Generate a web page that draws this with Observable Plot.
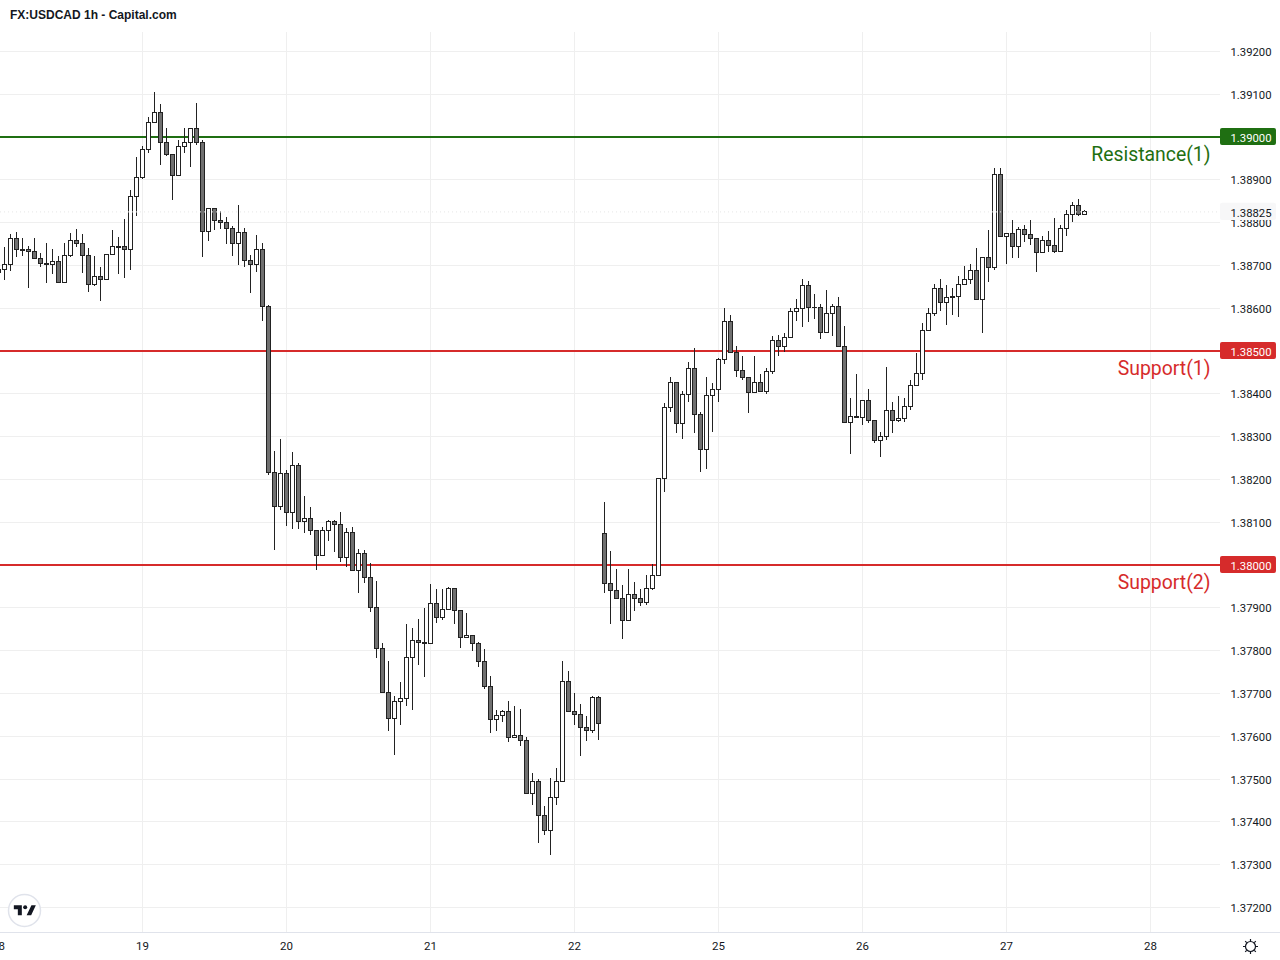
<!DOCTYPE html>
<html><head><meta charset="utf-8">
<script src="https://cdn.jsdelivr.net/npm/d3@7"></script>
<script src="https://cdn.jsdelivr.net/npm/@observablehq/plot@0.6"></script>
<style>
html,body{margin:0;padding:0;background:#fff}
#title{height:32px;box-sizing:border-box;padding:8px 0 0 10px;font:bold 12px/15px "Liberation Sans",sans-serif;color:#131722}
svg{display:block}
</style></head><body>
<div id="title">FX:USDCAD 1h - Capital.com</div>
<div id="chart"></div>
<script>
// Prices in points (price x 100000), one hourly bar per entry
const opens = [138690,
138691,138703,138762,138738,138738,138733,138715,138705,138701,138710,
138659,138724,138759,138752,138722,138656,138673,138668,138726,138745,
138743,138738,138862,138906,138970,139035,139058,138988,138958,138911,
138977,138988,139021,138986,138780,138832,138806,138801,138787,138752,
138778,138712,138703,138736,138605,138217,138137,138214,138123,138233,
138102,138109,138081,138023,138081,138102,138095,138018,138077,137988,
138027,137971,137901,137805,137703,137642,137682,137689,137784,137824,
137819,137817,137911,137878,137897,137946,137894,137831,137836,137817,
137775,137717,137639,137649,137658,137597,137602,137590,137466,137494,
137415,137380,137457,137494,137728,137658,137651,137621,137614,137691,
138074,137957,137940,137922,137870,137932,137922,137913,137946,137976,
138201,138367,138427,138331,138399,138458,138352,138271,138397,138411,
138481,138568,138497,138455,138437,138404,138427,138406,138453,138525,
138511,138532,138593,138600,138652,138602,138602,138544,138588,138605,
138511,138334,138348,138345,138385,138338,138292,138301,138362,138338,
138343,138371,138420,138448,138549,138588,138647,138614,138628,138628,
138656,138668,138689,138621,138719,138696,138913,138768,138775,138745,
138785,138773,138764,138731,138759,138747,138733,138787,138820,138839,
138818];
const highs = [138700,
138741,138772,138776,138764,138743,138762,138727,138751,138736,138721,
138751,138774,138785,138772,138739,138720,138694,138726,138781,138766,
138808,138876,138951,138977,139045,139103,139076,139021,138960,138991,
139021,139021,139078,138992,138832,138832,138825,138811,138792,138841,
138787,138722,138769,138752,138607,138266,138294,138221,138264,138238,
138161,138135,138081,138088,138105,138105,138123,138086,138088,138037,
138035,138004,137962,137817,137775,137693,137726,137862,137852,137873,
137899,137955,137943,137943,137948,137946,137894,137887,137836,137819,
137803,137740,137661,137661,137682,137670,137663,137597,137513,137499,
137436,137502,137525,137775,137752,137700,137675,137646,137693,137693,
138145,138032,137990,137953,137990,137960,137943,137976,138002,138201,
138378,138439,138427,138406,138472,138507,138357,138439,138425,138483,
138600,138582,138511,138488,138437,138486,138446,138460,138535,138537,
138542,138600,138621,138668,138663,138633,138609,138642,138609,138624,
138558,138388,138444,138385,138411,138338,138310,138462,138380,138394,
138388,138432,138495,138565,138600,138656,138666,138654,138647,138673,
138698,138703,138740,138719,138782,138927,138927,138775,138806,138789,
138794,138804,138764,138768,138780,138810,138794,138829,138846,138853,
138829];
const lows = [138680,
138665,138686,138719,138721,138646,138713,138695,138658,138678,138659,
138659,138719,138742,138681,138637,138651,138616,138665,138723,138678,
138670,138688,138815,138901,138962,139035,138933,138955,138852,138911,
138962,138929,138980,138719,138756,138782,138784,138750,138721,138700,
138695,138635,138684,138568,138209,138033,138127,138091,138084,138082,
138073,138068,137987,138023,138055,138029,138006,137994,137988,137933,
137957,137889,137781,137700,137611,137555,137625,137669,137660,137765,
137737,137817,137864,137870,137897,137861,137805,137831,137798,137760,
137709,137606,137611,137632,137585,137594,137576,137463,137438,137349,
137368,137321,137438,137494,137658,137625,137552,137587,137606,137590,
137934,137861,137922,137826,137870,137891,137903,137905,137940,137976,
138169,138356,138307,138293,138380,138307,138215,138223,138310,138380,
138469,138495,138437,138432,138354,138404,138406,138398,138446,138488,
138497,138532,138570,138555,138567,138574,138527,138544,138534,138511,
138334,138259,138342,138327,138331,138285,138252,138292,138308,138334,
138334,138362,138420,138430,138546,138581,138593,138560,138583,138578,
138652,138656,138621,138541,138661,138688,138768,138703,138717,138715,
138754,138747,138684,138731,138731,138728,138733,138768,138801,138815,
138818];
const closes = [138684,
138703,138762,138736,138735,138733,138715,138705,138701,138709,138659,
138724,138759,138752,138722,138656,138673,138668,138726,138745,138742,
138738,138862,138906,138970,139035,139058,138988,138958,138911,138977,
138988,139021,138986,138780,138832,138806,138801,138787,138752,138778,
138712,138703,138736,138605,138217,138137,138214,138123,138233,138102,
138109,138081,138023,138081,138102,138095,138018,138077,137988,138027,
137971,137901,137805,137703,137642,137682,137688,137784,137824,137819,
137817,137911,137878,137897,137946,137894,137831,137836,137817,137775,
137717,137639,137649,137658,137597,137602,137590,137466,137494,137415,
137380,137457,137494,137728,137658,137651,137621,137614,137691,137630,
137957,137940,137922,137870,137932,137922,137913,137946,137976,138201,
138367,138427,138331,138399,138458,138352,138271,138397,138411,138481,
138568,138497,138455,138437,138404,138427,138406,138453,138525,138511,
138532,138593,138600,138652,138602,138601,138544,138588,138605,138511,
138334,138348,138345,138385,138338,138292,138300,138362,138338,138343,
138371,138420,138448,138549,138588,138647,138614,138626,138626,138656,
138668,138689,138621,138719,138696,138913,138768,138775,138745,138785,
138773,138764,138731,138759,138747,138733,138787,138820,138839,138818,
138825];

const priceTicks = [1.392,1.391,1.39,1.389,1.388,1.387,1.386,1.385,1.384,1.383,1.382,1.381,1.38,1.379,1.378,1.377,1.376,1.375,1.374,1.373,1.372];
const dayLabels = ["18","19","20","21","22","25","26","27","28"];
const dayBars = [-1,23,47,71,95,119,143,167,191];
const levelNames = ["Resistance(1)","Support(1)","Support(2)"];
const levelPrices = [1.39,1.385,1.38];
const levelColors = ["#1f6f12","#d62b2b","#d62b2b"];
const levelLabelPrices = [1.38961,1.38461,1.37961];
const lastPrice = 1.38825;
const axisLinePrice = 1.37142;

const bars = opens.map((o,i)=>({k:i-1,o:o/1e5,h:highs[i]/1e5,l:lows[i]/1e5,c:closes[i]/1e5,up:closes[i]>=o}));
const levels = levelNames.map((n,i)=>({n,p:levelPrices[i],col:levelColors[i],lp:levelLabelPrices[i]}));
const fmt = d3.format(".5f");
const FONT = "Roboto, 'Liberation Sans', sans-serif";
const xStart = -2/3, xEdge = 202.67, xTagEnd = 212, xRight = 213.3, xLabelEnd = 201;

const tick = 'data:image/svg+xml,' + encodeURIComponent('<svg xmlns="http://www.w3.org/2000/svg" viewBox="0 0 36 28"><path fill="#131722" d="M14 6H2v6h6v9h6V6zm14 15h-6.8l7.2-15H35l-7 15z"/><circle cx="19" cy="9" r="3" fill="#131722"/></svg>');
const gear = 'data:image/svg+xml,' + encodeURIComponent('<svg xmlns="http://www.w3.org/2000/svg" viewBox="0 0 18 18"><g fill="none" stroke="#131722" stroke-width="1.2"><circle cx="9" cy="9" r="5"/><path d="M9 1.5v2.5M9 14v2.5M1.5 9h2.5M14 9h2.5M3.7 3.7l1.5 1.5M12.8 12.8l1.5 1.5M3.7 14.3l1.5-1.5M12.8 5.2l1.5-1.5"/></g></svg>');

const chart = Plot.plot({
  width:1280, height:928,
  marginLeft:0, marginRight:60, marginTop:0, marginBottom:28,
  style:{background:"#fff", fontFamily:FONT},
  x:{domain:[xStart,xEdge], range:[0,1220], label:null},
  y:{domain:[1.372,1.392], range:[874.9,18.9], label:null},
  marks:[
    Plot.gridY(priceTicks,{stroke:"#efefef",strokeOpacity:1,shapeRendering:"crispEdges"}),
    Plot.gridX(dayBars,{stroke:"#efefef",strokeOpacity:1,shapeRendering:"crispEdges"}),
    Plot.ruleY([axisLinePrice],{x1:xStart,x2:xRight,stroke:"#e0e3eb",shapeRendering:"crispEdges"}),
    Plot.ruleY(levels,{y:"p",stroke:"col",strokeWidth:2,shapeRendering:"crispEdges"}),
    Plot.ruleX(bars,{x:"k",y1:"l",y2:"h",stroke:"#222",strokeWidth:1,shapeRendering:"crispEdges"}),
    Plot.rect(bars,{x1:d=>d.k-1/3,x2:d=>d.k+1/3,y1:"o",y2:"c",dx:0.5,dy:0.5,fill:d=>d.up?"#fff":"#707070",stroke:"#222",strokeWidth:1,shapeRendering:"crispEdges"}),
    Plot.ruleY([lastPrice],{stroke:"#e6e6e6",strokeDasharray:"1,3",strokeWidth:1}),
    Plot.axisY({anchor:"right",ticks:priceTicks,tickSize:0,tickPadding:10,tickFormat:fmt,fontSize:11.3,fill:"#131722",label:null,dy:1}),
    Plot.axisX({ticks:dayBars,tickSize:0,tickPadding:9,tickFormat:d=>dayLabels[dayBars.indexOf(d)],fontSize:11.5,fill:"#131722",label:null}),
    Plot.rect(levels,{x1:xEdge,x2:xTagEnd,y1:d=>d.p-0.0002,y2:d=>d.p+0.0002,fill:"col",rx:2}),
    Plot.text(levels,{y:"p",frameAnchor:"right",dx:10,dy:1,textAnchor:"start",text:d=>fmt(d.p),fill:"#fff",fontSize:11.3}),
    Plot.rect([lastPrice],{x1:xEdge,x2:xTagEnd,y1:d=>d-0.0002,y2:d=>d+0.0002,fill:"#f7f7f8",rx:2}),
    Plot.text([lastPrice],{y:d=>d,frameAnchor:"right",dx:10,dy:1,textAnchor:"start",text:d=>fmt(d),fill:"#131722",fontSize:11.3}),
    Plot.text(levels,{x:xLabelEnd,y:"lp",dy:1,text:"n",fill:"col",textAnchor:"end",fontSize:19.4}),
    Plot.dot([0],{frameAnchor:"bottom-left",dx:24,dy:-22,r:16,fill:"#fff",stroke:"#e0e3eb"}),
    Plot.image([0],{frameAnchor:"bottom-left",dx:24,dy:-22,width:24,height:19,src:()=>tick}),
    Plot.image([0],{frameAnchor:"bottom-right",dx:30,dy:14,width:18,height:18,src:()=>gear})
  ]
});
document.getElementById("chart").append(chart);
</script></body></html>
